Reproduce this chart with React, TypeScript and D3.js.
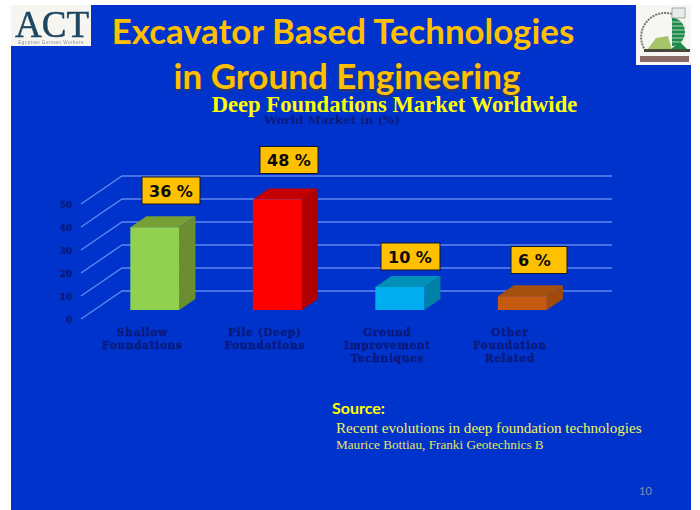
import * as d3 from "d3";
import { useEffect, useRef } from "react";

const categories = ["Shallow|Foundations", "Pile (Deep)|Foundations", "Ground|Improvement|Techniques", "Other|Foundation|Related"];
const shares = [36, 48, 10, 6];
const yTicks = [0, 10, 20, 30, 40, 50];
const faceColors = ["#92D050", "#FF0000", "#00AEEF", "#C55A11"];
const topColors = ["#769F35", "#C40000", "#0090B8", "#A6500F"];
const sideColors = ["#6B8E32", "#B00000", "#0082A6", "#A04A0C"];

// callout boxes sit where the slide author dragged them
const boxLeft = [142, 260, 381, 511];
const boxTop = [177, 146.5, 243, 246.5];
const boxWidth = [58, 58, 59, 56];

const BG = "#0033CC";
const NAVY = "#0A1A78";
const GRID = "#5F86EC";

export default function App() {
  const ref = useRef<SVGSVGElement>(null);

  useEffect(() => {
    const svg = d3.select(ref.current);
    svg.selectAll("*").remove();

    const defs = svg.append("defs");
    [["soft", 0.45], ["shadow", 1.1], ["logo", 0.5]].forEach(([id, dev]) => {
      defs.append("filter").attr("id", id as string)
        .append("feGaussianBlur").attr("stdDeviation", dev as number);
    });

    // slide
    svg.append("rect").attr("width", 700).attr("height", 510).attr("fill", "#fff");
    svg.append("rect").attr("x", 11).attr("y", 5).attr("width", 680).attr("height", 505).attr("fill", BG);

    // logos
    const act = svg.append("g").attr("filter", "url(#logo)");
    act.append("rect").attr("x", 11).attr("y", 5).attr("width", 80).attr("height", 41).attr("fill", "#F7F5F0");
    act.append("text").attr("x", 52).attr("y", 37).attr("text-anchor", "middle")
      .attr("font-family", "Liberation Serif").attr("font-size", 37).attr("fill", "#1F4763")
      .attr("stroke", "#1F4763").attr("stroke-width", 0.5).text("ACT");
    act.append("text").attr("x", 51).attr("y", 44).attr("text-anchor", "middle")
      .attr("font-family", "Liberation Sans").attr("font-size", 4.6).attr("letter-spacing", 0.5)
      .attr("fill", "#8A8F98").text("Egyptian German Workers");

    const badge = svg.append("g").attr("filter", "url(#logo)");
    badge.append("rect").attr("x", 636).attr("y", 5).attr("width", 55).attr("height", 60).attr("fill", "#F6F6F2");
    badge.append("path").attr("d", "M672 14 A24 24 0 0 0 645 50").attr("fill", "none")
      .attr("stroke", "#777").attr("stroke-width", 2).attr("stroke-dasharray", "2 1");
    badge.append("rect").attr("x", 672).attr("y", 8).attr("width", 13).attr("height", 10)
      .attr("fill", "#E8ECE8").attr("stroke", "#A0A8A8");
    badge.append("path").attr("d", "M672 18 A13 14 0 0 1 685 32 A13 14 0 0 1 672 46 Z").attr("fill", "#1E8A4A");
    [22, 26, 30, 34, 38, 42].forEach((y) => {
      badge.append("line").attr("x1", 672).attr("x2", 686).attr("y1", y).attr("y2", y)
        .attr("stroke", "#DDEBDD").attr("stroke-width", 0.8);
    });
    badge.append("path").attr("d", "M647 50 L656 38 L668 36 L672 50 Z").attr("fill", "#A6C46A");
    badge.append("path").attr("d", "M667 52 L680 42 L690 52 Z").attr("fill", "#1E8A4A");
    badge.append("rect").attr("x", 644).attr("y", 49).attr("width", 46).attr("height", 3).attr("fill", "#4A4A3A");
    badge.append("rect").attr("x", 640).attr("y", 56).attr("width", 49).attr("height", 6).attr("fill", "#8A6A66");

    // heading
    svg.append("text").attr("x", 347).attr("y", 91).attr("text-anchor", "middle")
      .attr("font-family", "Lato").attr("font-weight", 700).attr("font-size", 35)
      .attr("fill", "#3A3A50").attr("filter", "url(#shadow)").text("in Ground Engineering");
    svg.append("text").attr("x", 343).attr("y", 44).attr("text-anchor", "middle")
      .attr("font-family", "Lato").attr("font-weight", 700).attr("font-size", 34.8)
      .attr("fill", "#FFC000").text("Excavator Based Technologies");
    svg.append("text").attr("x", 347).attr("y", 89).attr("text-anchor", "middle")
      .attr("font-family", "Lato").attr("font-weight", 700).attr("font-size", 35)
      .attr("fill", "#FFC000").text("in Ground Engineering");
    svg.append("text").attr("x", 332).attr("y", 124).attr("text-anchor", "middle")
      .attr("font-family", "DejaVu Serif").attr("font-weight", 700).attr("font-size", 11.9)
      .attr("fill", NAVY).attr("filter", "url(#soft)").text("World Market in (%)");
    svg.append("text").attr("x", 394.5).attr("y", 112).attr("text-anchor", "middle")
      .attr("font-family", "Liberation Serif").attr("font-weight", 700).attr("font-size", 22.6)
      .attr("fill", "#FFFF00").text("Deep Foundations Market Worldwide");

    // pseudo 3D chart: floor runs from the front edge back by (depthX, depthY)
    const x = d3.scaleBand().domain(categories).range([81, 571]).paddingInner(0.6).paddingOuter(0.3);
    const y = d3.scaleLinear().domain([0, 50]).range([319, 204]);
    const depthX = d3.scaleLinear().domain([0, 1]).range([0, 41]);
    const depthY = d3.scaleLinear().domain([0, 1]).range([0, -28]);
    const backX = depthX(1);
    const backY = depthY(1);

    const grid = svg.append("g").attr("stroke", GRID).attr("stroke-width", 1.4).attr("fill", "none");
    yTicks.forEach((t) => {
      grid.append("path").attr("d", d3.line()([
        [81, y(t)],
        [81 + backX, y(t) + backY],
        [571 + backX, y(t) + backY],
      ]));
    });

    svg.append("g").selectAll("text").data(yTicks).join("text")
      .attr("x", 72).attr("y", (d) => y(d) + 3.5).attr("text-anchor", "end")
      .attr("font-family", "DejaVu Serif").attr("font-weight", 700).attr("font-size", 9)
      .attr("stroke", NAVY).attr("stroke-width", 0.3)
      .attr("fill", NAVY).attr("filter", "url(#soft)").text((d) => d);

    // bars stand in the middle of the floor depth
    const d0 = 9 / 28;
    const d1 = 20 / 28;
    const line = d3.line();
    categories.forEach((c, i) => {
      const left = (x(c) as number) + depthX(d0) - 0.6;
      const right = left + x.bandwidth();
      const base = y(0) + depthY(d0);
      const top = y(shares[i]) + depthY(d0);
      const dx = depthX(d1) - depthX(d0);
      const dy = depthY(d1) - depthY(d0);
      const g = svg.append("g");
      g.append("path").attr("fill", topColors[i]).attr("d", line([
        [left, top], [left + dx, top + dy], [right + dx, top + dy], [right, top],
      ]) + "Z");
      g.append("path").attr("fill", sideColors[i]).attr("d", line([
        [right, top], [right + dx, top + dy], [right + dx, base + dy], [right, base],
      ]) + "Z");
      g.append("rect").attr("x", left).attr("y", top).attr("width", right - left)
        .attr("height", base - top).attr("fill", faceColors[i]);
    });

    // category labels
    categories.forEach((c) => {
      const t = svg.append("text").attr("text-anchor", "middle")
        .attr("font-family", "DejaVu Serif").attr("font-weight", 700).attr("font-size", 10.5)
        .attr("letter-spacing", 0.7).attr("stroke", NAVY).attr("stroke-width", 0.35)
        .attr("fill", NAVY).attr("filter", "url(#soft)");
      c.split("|").forEach((part, k) => {
        t.append("tspan").attr("x", (x(c) as number) + x.bandwidth() / 2)
          .attr("y", 336 + k * 13).text(part);
      });
    });

    // value callouts
    shares.forEach((v, i) => {
      svg.append("rect").attr("x", boxLeft[i]).attr("y", boxTop[i]).attr("width", boxWidth[i]).attr("height", 27)
        .attr("fill", "#FFC000").attr("stroke", "#14142A").attr("stroke-width", 1);
      svg.append("text").attr("x", boxLeft[i] + 7).attr("y", boxTop[i] + 19.5)
        .attr("font-family", "DejaVu Sans").attr("font-weight", 700).attr("font-size", 16)
        .attr("fill", "#0B0B0B").text(`${v} %`);
    });

    // source block
    svg.append("text").attr("x", 332).attr("y", 414).attr("font-family", "Lato").attr("font-weight", 700)
      .attr("font-size", 16).attr("fill", "#FFFF00").text("Source:");
    svg.append("text").attr("x", 336).attr("y", 433).attr("font-family", "Liberation Serif")
      .attr("font-size", 15.1).attr("fill", "#F2F25A").text("Recent evolutions in deep foundation technologies");
    svg.append("text").attr("x", 336).attr("y", 449).attr("font-family", "Liberation Serif")
      .attr("font-size", 13.2).attr("fill", "#E4E460").text("Maurice Bottiau, Franki Geotechnics B");
    svg.append("text").attr("x", 639).attr("y", 495).attr("font-family", "Lato")
      .attr("font-size", 11).attr("fill", "#8C8CA8").text("10");
  }, []);

  return (
    <svg
      ref={ref}
      width={700}
      height={510}
      style={{ position: "absolute", left: 0, top: 0, display: "block" }}
    />
  );
}
